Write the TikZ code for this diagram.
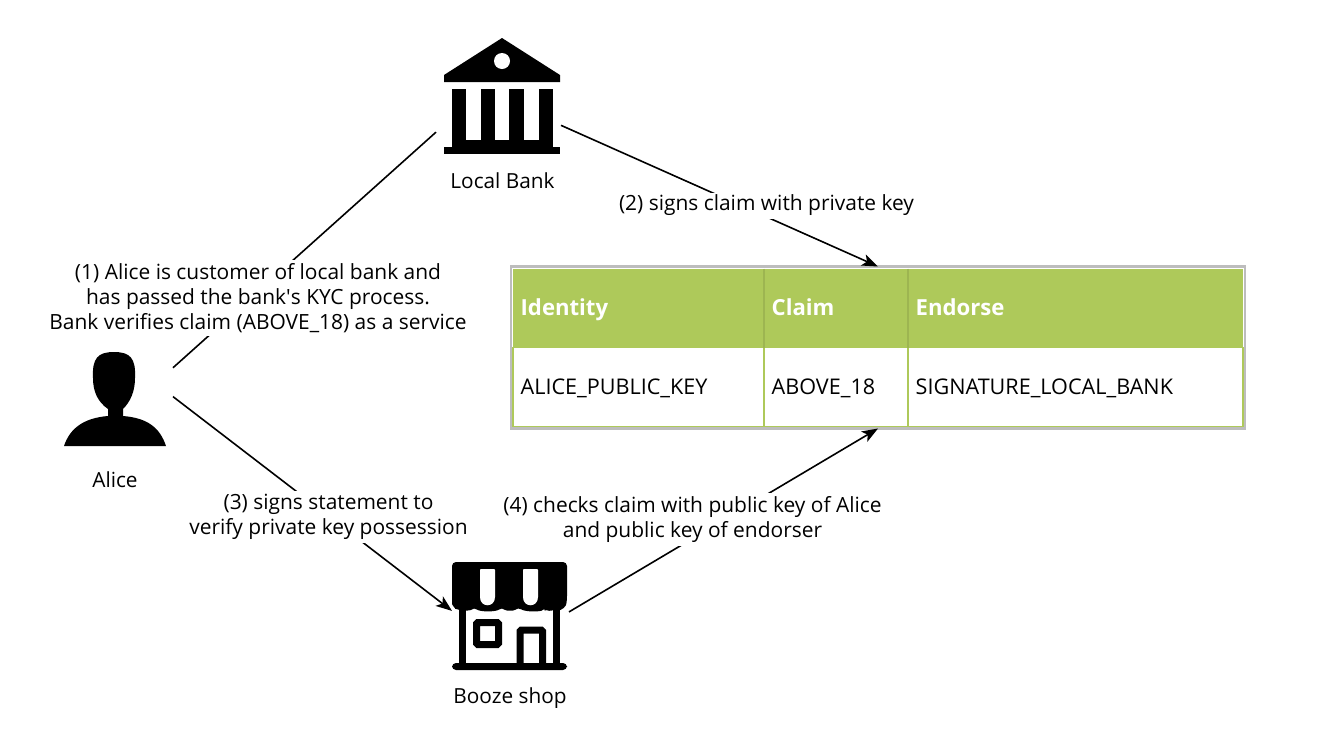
\documentclass[tikz,border=0pt]{standalone}
\usepackage{fontspec}
\setmainfont{Open Sans}
\usetikzlibrary{arrows.meta,positioning}
\definecolor{tablegreen}{HTML}{AEC95A}
\definecolor{tablegrey}{HTML}{BDBDBD}
\tikzset{
  lab/.style={font=\fontsize{15.7}{18.75}\selectfont,align=center,fill=white,inner xsep=1pt,inner ysep=0pt},
  iconname/.style={font=\fontsize{15.6}{18.75}\selectfont,inner sep=0pt},
  iconbox/.style={inner sep=0pt,outer sep=0pt},
  link/.style={line width=1.2pt},
  linkto/.style={line width=1.2pt,-{Stealth[length=12pt,width=9pt,inset=3pt]}},
  cell/.style={inner ysep=0pt,inner xsep=5.75pt,outer sep=0pt,minimum height=59.25pt,align=left,text height=13.5pt,text depth=2pt,font=\fontsize{16.2}{18.75}\selectfont},
  headcell/.style={cell,fill=tablegreen,text=white,font=\fontsize{16.6}{18.75}\selectfont\bfseries},
  rowcell/.style={cell,draw=tablegreen,line width=1.2pt},
  colone/.style={minimum width=188.25pt,text width=176.75pt},
  coltwo/.style={minimum width=108pt,text width=96.5pt},
  colthree/.style={minimum width=251.25pt,text width=239.75pt}
}
\begin{document}
\begin{tikzpicture}[x=0.75pt,y=-0.75pt]
  \useasboundingbox (0,0) rectangle (1328,754);

  % Icon boxes
  \node[iconbox,minimum width=93.75pt,minimum height=86.25pt] (bank) at (498.5,97.5) {};
  \node[iconbox,minimum width=82.5pt,minimum height=71.25pt] (alice) at (118,399.5) {};
  \node[iconbox,minimum width=87.75pt,minimum height=81pt] (shop) at (510.5,616) {};
  \node[iconbox,minimum width=550.5pt,minimum height=121.5pt] (endorsetable) at (878,347.5) {};

  % Bank icon
  \fill (444,82) -- (444,75) -- (502,38) -- (560,75) -- (560,82) -- cycle;
  \fill[white] (502,61) circle (8);
  \fill (452,89) rectangle (466,141);
  \fill (481,89) rectangle (495,141);
  \fill (509,89) rectangle (524,141);
  \fill (539,89) rectangle (553,141);
  \fill (452,140) rectangle (553,148);
  \fill (444,147) rectangle (560,154);

  % Alice icon
  \fill (108,409) .. controls (98,402) and (93,392) .. (93,378)
    .. controls (92,358) and (98,352) .. (114,352)
    .. controls (130,352) and (136,358) .. (135,378)
    .. controls (135,392) and (130,402) .. (123,409)
    -- (123,416) .. controls (148,418) and (160,428) .. (166,446)
    -- (64,446) .. controls (70,428) and (84,418) .. (108,416) -- cycle;

  % Shop icon
  \fill[rounded corners=3pt] (452,562) -- (567,562) -- (567,600)
    .. controls (566,606) and (562,611) .. (553,610)
    .. controls (548,611) and (545,609) .. (545,607)
    .. controls (541,612) and (525,612) .. (518,607)
    .. controls (514,611) and (506,611) .. (502,607)
    .. controls (496,612) and (480,612) .. (474,607)
    .. controls (471,610) and (468,611) .. (459,610)
    .. controls (456,609) and (452,605) .. (452,600) -- cycle;
  \fill[white] (480,570) .. controls (480,569) and (481,569) .. (482,569) -- (493,569)
    .. controls (494,569) and (495,569) .. (495,570) -- (495,597)
    .. controls (495,608) and (480,608) .. (480,597) -- cycle;
  \fill[white] (523,570) .. controls (523,569) and (524,569) .. (525,569) -- (536,569)
    .. controls (537,569) and (538,569) .. (538,570) -- (538,597)
    .. controls (538,608) and (523,608) .. (523,597) -- cycle;
  \fill (459,606) rectangle (466,665);
  \fill (553,606) rectangle (560,665);
  \fill[rounded corners=3pt] (452,663) rectangle (567,670);
  \draw[line width=5.25pt,rounded corners=1pt] (476.5,622.5) rectangle (498.5,644.5);
  \draw[line width=5.25pt,rounded corners=1pt] (520,664) -- (520,630) -- (542.5,630) -- (542.5,664);

  % Table
  \draw[tablegrey,line width=1.6pt] (endorsetable.north west) rectangle (endorsetable.south east);
  \node[headcell,colone,anchor=north west,xshift=1.5pt,yshift=-1.5pt] (identityhead) at (endorsetable.north west) {Identity};
  \node[headcell,coltwo,right=0pt of identityhead] (claimhead) {Claim};
  \node[headcell,colthree,right=0pt of claimhead] (endorsehead) {Endorse};
  \node[rowcell,colone,below=0pt of identityhead] (identitycell) {ALICE\_PUBLIC\_KEY};
  \node[rowcell,coltwo,below=0pt of claimhead] (claimcell) {ABOVE\_18};
  \node[rowcell,colthree,below=0pt of endorsehead] (endorsecell) {SIGNATURE\_LOCAL\_BANK};
  \draw[tablegreen!90!black,line width=1.2pt] (identityhead.north east) -- (identityhead.south east);
  \draw[tablegreen!90!black,line width=1.2pt] (claimhead.north east) -- (claimhead.south east);

  % Connectors
  \draw[link] (alice.30.6) -- (bank.209.6);
  \draw[linkto] (bank.-24.5) -- (endorsetable.north);
  \draw[linkto] (alice.3.6) -- (shop.175);
  \draw[linkto] (shop.4) -- (endorsetable.south);

  % Connector labels
  \node[lab,minimum height=57pt] (kyclabel) at (258,298) {(1) Alice is customer of local bank and\\has passed the bank\textquotesingle s KYC process.\\Bank verifies claim (ABOVE\_18) as a service};
  \node[lab,minimum height=19.5pt] (signlabel) at (766.5,205.5) {(2) signs claim with private key};
  \node[lab,minimum height=39pt] (statementlabel) at (328.5,516.5) {(3) signs statement to\\verify private key possession};
  \node[lab,minimum height=39.75pt] (checklabel) at (692.5,519.5) {(4) checks claim with public key of Alice\\and public key of endorser};

  % Icon names
  \node[iconname] (bankname) at (502.5,181) {Local Bank};
  \node[iconname] (alicename) at (115,480) {Alice};
  \node[iconname] (shopname) at (510,698.5) {Booze shop};
\end{tikzpicture}
\end{document}
